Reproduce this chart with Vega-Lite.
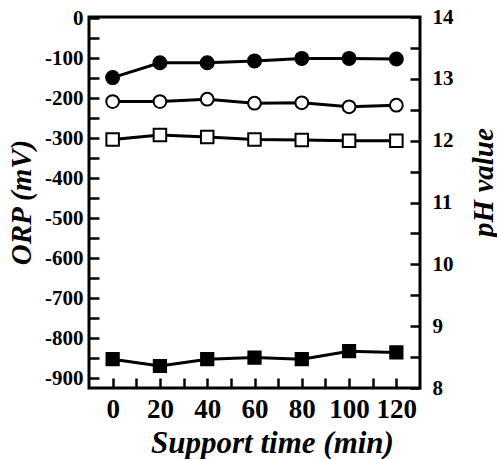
{
  "$schema": "https://vega.github.io/schema/vega-lite/v6.json",
  "width": 331,
  "height": 371,
  "autosize": {"type": "none"},
  "padding": {"left": 89, "top": 17, "right": 77, "bottom": 71},
  "background": "white",
  "config": {
    "view": {"stroke": "black", "strokeWidth": 3},
    "font": "Liberation Serif",
    "axis": {
      "labelFont": "Liberation Serif",
      "labelFontWeight": "bold",
      "labelColor": "black",
      "titleFont": "Liberation Serif",
      "titleFontStyle": "italic",
      "titleFontWeight": "bold",
      "titleFontSize": 29,
      "titleColor": "black",
      "tickColor": "black",
      "tickWidth": 2.5,
      "domain": false,
      "grid": false
    }
  },
  "datasets": {
    "orp": [
      {"time": 0, "series": "ORP 1", "value": -209},
      {"time": 20, "series": "ORP 1", "value": -209},
      {"time": 40, "series": "ORP 1", "value": -203},
      {"time": 60, "series": "ORP 1", "value": -213},
      {"time": 80, "series": "ORP 1", "value": -212},
      {"time": 100, "series": "ORP 1", "value": -222},
      {"time": 120, "series": "ORP 1", "value": -218},
      {"time": 0, "series": "ORP 2", "value": -853},
      {"time": 20, "series": "ORP 2", "value": -870},
      {"time": 40, "series": "ORP 2", "value": -853},
      {"time": 60, "series": "ORP 2", "value": -849},
      {"time": 80, "series": "ORP 2", "value": -853},
      {"time": 100, "series": "ORP 2", "value": -833},
      {"time": 120, "series": "ORP 2", "value": -836}
    ],
    "ph": [
      {"time": 0, "series": "pH 1", "value": 13.02},
      {"time": 20, "series": "pH 1", "value": 13.26},
      {"time": 40, "series": "pH 1", "value": 13.26},
      {"time": 60, "series": "pH 1", "value": 13.29},
      {"time": 80, "series": "pH 1", "value": 13.33},
      {"time": 100, "series": "pH 1", "value": 13.33},
      {"time": 120, "series": "pH 1", "value": 13.32},
      {"time": 0, "series": "pH 2", "value": 12.02},
      {"time": 20, "series": "pH 2", "value": 12.09},
      {"time": 40, "series": "pH 2", "value": 12.06},
      {"time": 60, "series": "pH 2", "value": 12.02},
      {"time": 80, "series": "pH 2", "value": 12.01},
      {"time": 100, "series": "pH 2", "value": 12.0},
      {"time": 120, "series": "pH 2", "value": 12.0}
    ]
  },
  "encoding": {
    "x": {
      "field": "time",
      "type": "quantitative",
      "scale": {"domain": [-10, 130], "nice": false, "zero": false},
      "axis": {
        "title": "Support time (min)",
        "values": [0, 10, 20, 30, 40, 50, 60, 70, 80, 90, 100, 110, 120],
        "labelExpr": "datum.value % 20 === 0 ? '' + datum.value : ''",
        "tickSize": -10,
        "labelFontSize": 27,
        "labelPadding": 18,
        "titleFontSize": 31,
        "titleX": 183,
        "titleY": 64,
        "titleAlign": "center",
        "titleBaseline": "alphabetic",
        "encode": {"ticks": {"update": {"y2": {"signal": "datum.value % 20 === 0 ? -10 : -6"}}}}
      }
    }
  },
  "layer": [
    {
      "data": {"name": "orp"},
      "encoding": {
        "y": {
          "field": "value",
          "type": "quantitative",
          "scale": {"domain": [-925, 2.5], "nice": false, "zero": false},
          "axis": {
            "orient": "left",
            "title": "ORP (mV)",
            "values": [-900, -850, -800, -750, -700, -650, -600, -550, -500, -450, -400, -350, -300, -250, -200, -150, -100, -50, 0],
            "labelExpr": "datum.value % 100 === 0 ? (datum.value < 0 ? '-' + abs(datum.value) : '' + datum.value) : ''",
            "tickSize": -10,
            "labelFontSize": 21,
            "labelPadding": 16,
            "titleAngle": -90,
            "titleX": -59,
            "titleY": 185,
            "titleAlign": "center",
            "titleBaseline": "alphabetic",
            "encode": {"ticks": {"update": {"x2": {"signal": "datum.value % 100 === 0 ? 10 : 6"}}}}
          }
        }
      },
      "layer": [
        {
          "mark": {"type": "line", "stroke": "black", "strokeWidth": 3},
          "encoding": {"detail": {"field": "series"}}
        },
        {
          "mark": {"type": "point", "filled": true, "stroke": "black", "strokeWidth": 2, "opacity": 1, "fillOpacity": 1},
          "encoding": {
            "shape": {"field": "series", "scale": {"domain": ["pH 1", "ORP 1", "pH 2", "ORP 2"], "range": ["circle", "circle", "square", "square"]}, "legend": null},
            "fill": {"field": "series", "scale": {"domain": ["pH 1", "ORP 1", "pH 2", "ORP 2"], "range": ["black", "white", "white", "black"]}, "legend": null},
            "size": {"field": "series", "scale": {"domain": ["pH 1", "ORP 1", "pH 2", "ORP 2"], "range": [170, 150, 150, 160]}, "legend": null}
          }
        }
      ]
    },
    {
      "data": {"name": "ph"},
      "encoding": {
        "y": {
          "field": "value",
          "type": "quantitative",
          "scale": {"domain": [8, 14], "nice": false, "zero": false},
          "axis": {
            "orient": "right",
            "title": "pH value",
            "values": [8, 8.5, 9, 9.5, 10, 10.5, 11, 11.5, 12, 12.5, 13, 13.5, 14],
            "labelExpr": "datum.value % 1 === 0 ? '' + datum.value : ''",
            "tickSize": -10,
            "labelFontSize": 21,
            "labelPadding": 22,
            "titleAngle": -90,
            "titleX": 72,
            "titleY": 165,
            "titleAlign": "center",
            "titleBaseline": "alphabetic",
            "encode": {"ticks": {"update": {"x2": {"signal": "datum.value % 1 === 0 ? -10 : -6"}}}}
          }
        }
      },
      "layer": [
        {
          "mark": {"type": "line", "stroke": "black", "strokeWidth": 3},
          "encoding": {"detail": {"field": "series"}}
        },
        {
          "mark": {"type": "point", "filled": true, "stroke": "black", "strokeWidth": 2, "opacity": 1, "fillOpacity": 1},
          "encoding": {
            "shape": {"field": "series", "scale": {"domain": ["pH 1", "ORP 1", "pH 2", "ORP 2"], "range": ["circle", "circle", "square", "square"]}, "legend": null},
            "fill": {"field": "series", "scale": {"domain": ["pH 1", "ORP 1", "pH 2", "ORP 2"], "range": ["black", "white", "white", "black"]}, "legend": null},
            "size": {"field": "series", "scale": {"domain": ["pH 1", "ORP 1", "pH 2", "ORP 2"], "range": [170, 150, 150, 160]}, "legend": null}
          }
        }
      ]
    }
  ],
  "resolve": {"scale": {"y": "independent"}}
}
